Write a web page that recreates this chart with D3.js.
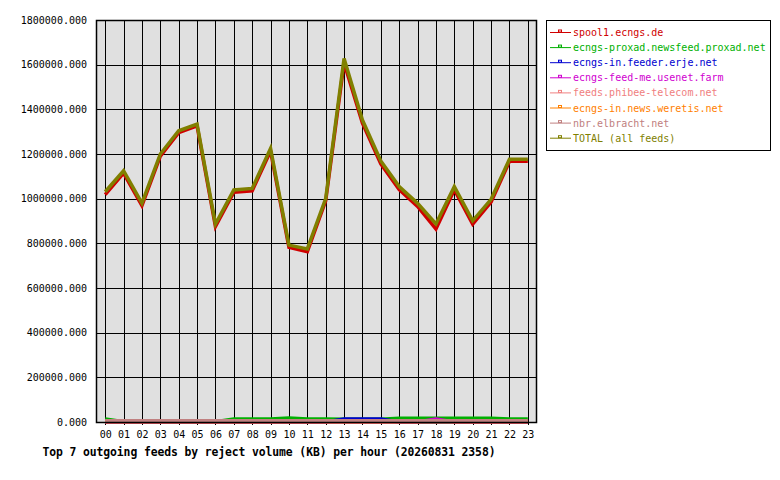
<!DOCTYPE html>
<html>
<head>
<meta charset="utf-8">
<script src="https://cdn.jsdelivr.net/npm/d3@7"></script>
<style>
  body { margin: 0; background: #fff; }
  svg text { font-family: "DejaVu Sans Mono", "Liberation Mono", monospace; }
</style>
</head>
<body>
<div id="chart"></div>
<script>
const width = 780;
const height = 480;

const hours = ["00","01","02","03","04","05","06","07","08","09","10","11",
               "12","13","14","15","16","17","18","19","20","21","22","23"];

const yTicks = [0, 200000, 400000, 600000, 800000, 1000000, 1200000, 1400000, 1600000, 1800000];

const feedNames = [
    "spool1.ecngs.de",
    "ecngs-proxad.newsfeed.proxad.net",
    "ecngs-in.feeder.erje.net",
    "ecngs-feed-me.usenet.farm",
    "feeds.phibee-telecom.net",
    "ecngs-in.news.weretis.net",
    "nbr.elbracht.net",
    "TOTAL (all feeds)"
];

const feedColors = ["#d00000", "#00b000", "#0000d0", "#d000d0", "#f08080", "#ff8000", "#c08080", "#808000"];

const spool1 = [1018000, 1114000, 969000, 1190000, 1296000, 1326000, 875000, 1029000, 1035000, 1213000, 782000, 763000,
                990000, 1608000, 1338000, 1156000, 1041000, 965000, 864000, 1040000, 886000, 985000, 1167000, 1167000];
const proxad = [13000, 1000, 1000, 1000, 1000, 1000, 1000, 13000, 13000, 13000, 18000, 13000,
                13000, 12000, 12000, 12000, 17000, 17000, 17000, 17000, 17000, 17000, 13000, 13000];
const erje = [0, 0, 0, 0, 0, 0, 0, 0, 0, 0, 0, 0,
              0, 13000, 13000, 13000, 0, 0, 0, 0, 0, 0, 0, 0];
const usenetFarm = [0, 0, 0, 0, 0, 0, 0, 0, 0, 0, 0, 0,
                    0, 0, 0, 0, 0, 0, 13000, 0, 0, 0, 0, 0];
const phibee = [2000, 2000, 2000, 2000, 2000, 2000, 2000, 2000, 2000, 2000, 2000, 2000,
                2000, 2000, 2000, 2000, 2000, 2000, 2000, 2000, 2000, 2000, 2000, 2000];
const weretis = [1000, 1000, 1000, 1000, 1000, 1000, 1000, 1000, 1000, 1000, 1000, 1000,
                 1000, 1000, 1000, 1000, 1000, 1000, 1000, 1000, 1000, 1000, 1000, 1000];
const nbr = [6000, 6000, 6000, 6000, 6000, 6000, 6000, 6000, 6000, 6000, 6000, 6000,
             6000, 6000, 6000, 6000, 6000, 6000, 6000, 6000, 6000, 6000, 6000, 6000];
const total = [1031000, 1125000, 980000, 1200000, 1304000, 1334000, 886000, 1039000, 1046000, 1225000, 792000, 775000,
               1000000, 1628000, 1352000, 1169000, 1054000, 979000, 887000, 1054000, 901000, 997000, 1176000, 1176000];

const series = [spool1, proxad, erje, usenetFarm, phibee, weretis, nbr, total];

const plot = { left: 96, right: 537, top: 20, bottom: 422 };

const svg = d3.select("#chart")
    .append("svg")
    .attr("width", width)
    .attr("height", height);

const x = d3.scalePoint()
    .domain(hours)
    .range([plot.left, plot.right])
    .padding(0.5);

const y = d3.scaleLinear()
    .domain([0, 1800000])
    .range([plot.bottom, plot.top]);

// plot background
svg.append("rect")
    .attr("x", plot.left)
    .attr("y", plot.top)
    .attr("width", plot.right - plot.left)
    .attr("height", plot.bottom - plot.top)
    .attr("fill", "#e0e0e0");

// vertical grid + ticks below the axis
const xAxis = svg.append("g")
    .attr("transform", `translate(0,${plot.bottom + 3})`)
    .call(d3.axisBottom(x).tickSize(-(plot.bottom - plot.top + 3)).tickPadding(6));

// horizontal grid + labels
const yAxis = svg.append("g")
    .attr("transform", `translate(${plot.left},0)`)
    .call(d3.axisLeft(y).tickValues(yTicks).tickSize(-(plot.right - plot.left)).tickPadding(9)
        .tickFormat(d3.format(".3f")));

[xAxis, yAxis].forEach(g => {
    g.select(".domain").remove();
    g.selectAll("line").attr("stroke", "#000").attr("shape-rendering", "crispEdges");
    g.selectAll("text").attr("fill", "#000").attr("font-size", 10)
        .attr("font-family", "'DejaVu Sans Mono', 'Liberation Mono', monospace");
});

const line = d3.line()
    .x((d, i) => x(hours[i]))
    .y(d => y(d));

svg.append("g")
    .selectAll("path")
    .data(series)
    .join("path")
    .attr("d", line)
    .attr("fill", "none")
    .attr("stroke", (d, i) => feedColors[i])
    .attr("stroke-width", 3.5)
    .attr("stroke-linejoin", "miter");

// frame
svg.append("rect")
    .attr("x", plot.left + 0.5)
    .attr("y", plot.top + 0.5)
    .attr("width", plot.right - plot.left - 1)
    .attr("height", plot.bottom - plot.top)
    .attr("fill", "none")
    .attr("stroke", "#000")
    .attr("stroke-width", 1.5);

// legend
const legend = svg.append("g");
legend.append("rect")
    .attr("x", 546.5)
    .attr("y", 20.5)
    .attr("width", 224)
    .attr("height", 130)
    .attr("fill", "#fff")
    .attr("stroke", "#000")
    .attr("stroke-width", 1);

const entry = legend.selectAll("g.entry")
    .data(feedNames)
    .join("g")
    .attr("class", "entry")
    .attr("transform", (d, i) => `translate(0,${32.5 + i * 15.1})`);

entry.append("line")
    .attr("x1", 550).attr("x2", 571)
    .attr("y1", 0).attr("y2", 0)
    .attr("stroke", (d, i) => feedColors[i])
    .attr("stroke-width", 1);

entry.append("rect")
    .attr("x", 558.5).attr("y", -2.5)
    .attr("width", 3).attr("height", 2)
    .attr("fill", "none")
    .attr("stroke", (d, i) => feedColors[i])
    .attr("stroke-width", 1);

entry.append("text")
    .attr("x", 573)
    .attr("dy", "0.35em")
    .attr("font-size", 10)
    .attr("fill", (d, i) => feedColors[i])
    .text(d => d);

// title
svg.append("text")
    .attr("x", 42.5)
    .attr("y", 456)
    .attr("font-size", 11.4)
    .attr("font-weight", "bold")
    .attr("fill", "#000")
    .attr("textLength", 453)
    .attr("lengthAdjust", "spacing")
    .text("Top 7 outgoing feeds by reject volume (KB) per hour (20260831 2358)");
</script>
</body>
</html>
